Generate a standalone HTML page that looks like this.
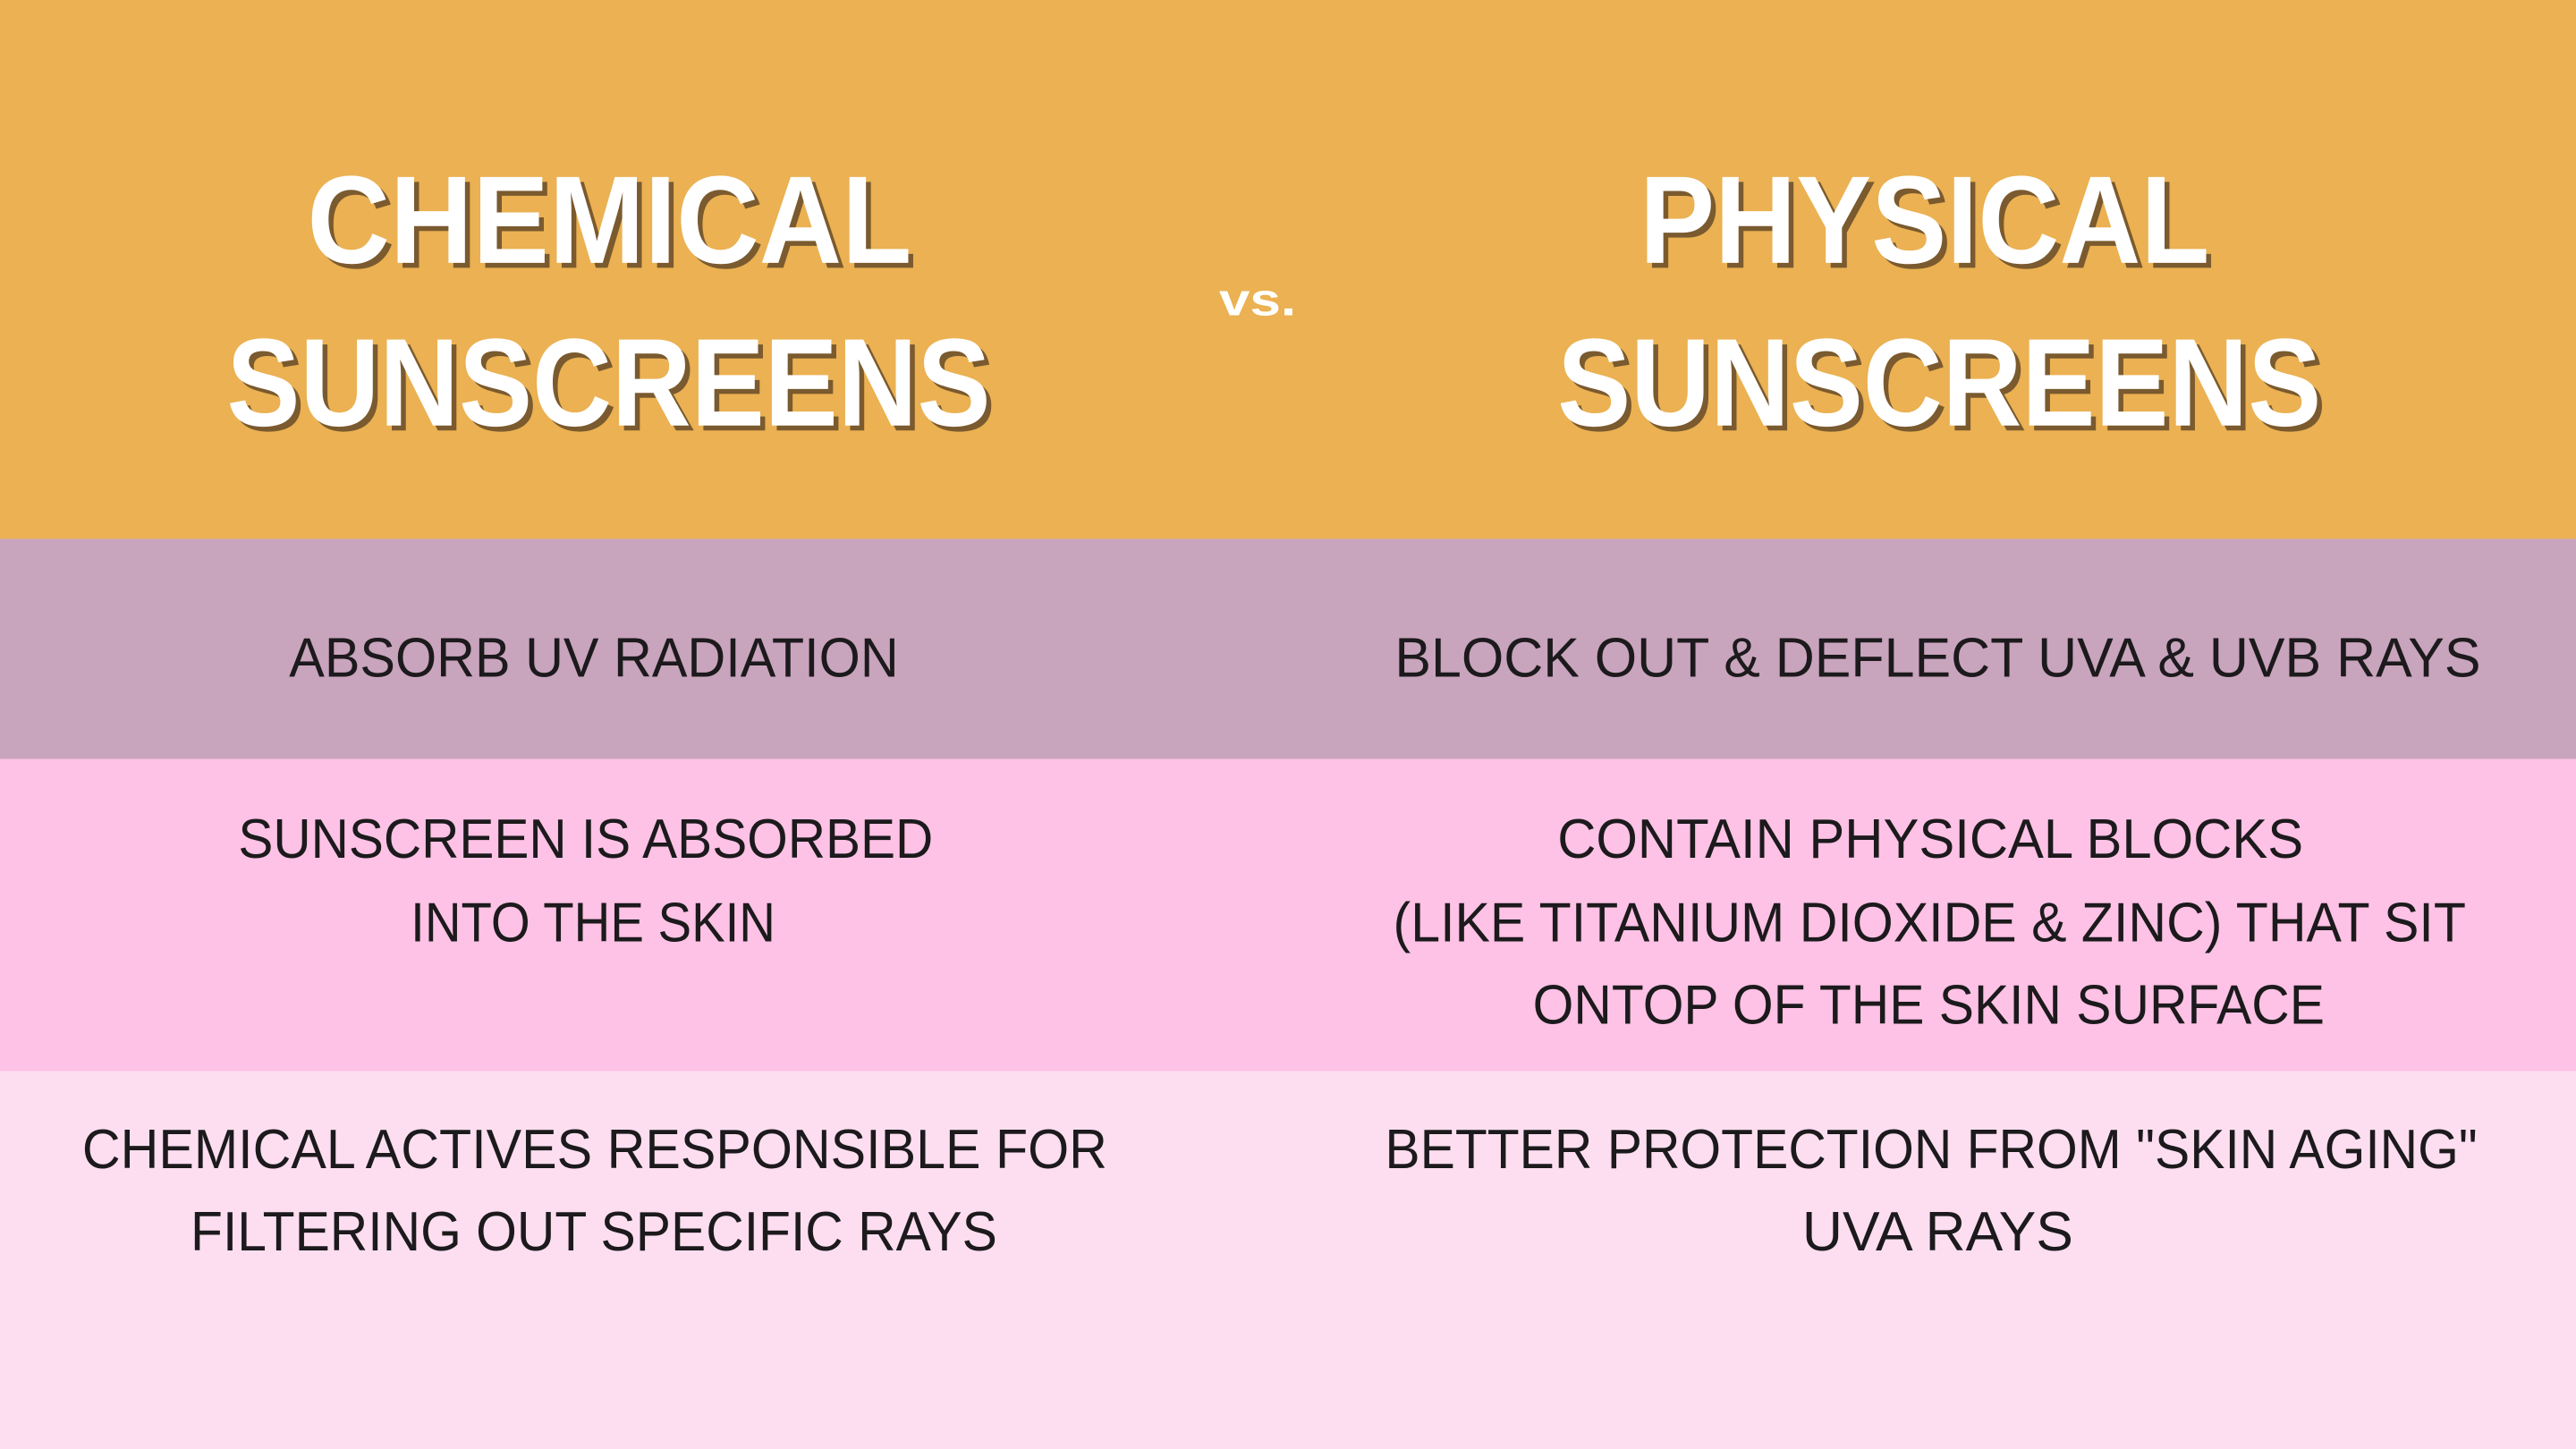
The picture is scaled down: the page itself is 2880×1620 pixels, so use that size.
<!DOCTYPE html>
<html>
<head>
<meta charset="utf-8">
<style>
  html, body { margin: 0; padding: 0; }
  body { width: 2880px; height: 1620px; overflow: hidden; }
  svg { display: block; }
  .h { font-family: "Liberation Sans", "DejaVu Sans", sans-serif; font-weight: bold; fill: #ffffff; }
  .hs { font-family: "Liberation Sans", "DejaVu Sans", sans-serif; font-weight: bold; fill: #7a5a2e; }
  .b { font-family: "Liberation Sans", "DejaVu Sans", sans-serif; font-weight: normal; fill: #1c1a1c; }
</style>
</head>
<body>
<svg width="2880" height="1620" viewBox="0 0 1568 882" preserveAspectRatio="none" xmlns="http://www.w3.org/2000/svg">
  <rect x="0" y="0" width="1568" height="328" fill="#EBB152"/>
  <rect x="0" y="328" width="1568" height="134" fill="#C9A4BD"/>
  <rect x="0" y="462" width="1568" height="190" fill="#FDC2E5"/>
  <rect x="0" y="652" width="1568" height="230" fill="#FDDEF1"/>

  <g>
    <text class="hs" x="190" y="163" font-size="76" textLength="368" lengthAdjust="spacingAndGlyphs">CHEMICAL</text>
    <text class="h" x="187" y="160" font-size="76" textLength="368" lengthAdjust="spacingAndGlyphs">CHEMICAL</text>
    <text class="hs" x="141" y="262" font-size="76" textLength="465" lengthAdjust="spacingAndGlyphs">SUNSCREENS</text>
    <text class="h" x="138" y="259" font-size="76" textLength="465" lengthAdjust="spacingAndGlyphs">SUNSCREENS</text>
  </g>
  <text class="h" x="742" y="192" font-size="28" textLength="47" lengthAdjust="spacingAndGlyphs">vs.</text>
  <g>
    <text class="hs" x="1001" y="163" font-size="76" textLength="347" lengthAdjust="spacingAndGlyphs">PHYSICAL</text>
    <text class="h" x="998" y="160" font-size="76" textLength="347" lengthAdjust="spacingAndGlyphs">PHYSICAL</text>
    <text class="hs" x="951" y="262" font-size="76" textLength="465" lengthAdjust="spacingAndGlyphs">SUNSCREENS</text>
    <text class="h" x="948" y="259" font-size="76" textLength="465" lengthAdjust="spacingAndGlyphs">SUNSCREENS</text>
  </g>

  <text class="b" x="176" y="412" font-size="34" textLength="371" lengthAdjust="spacingAndGlyphs">ABSORB UV RADIATION</text>
  <text class="b" x="849" y="412" font-size="34" textLength="661" lengthAdjust="spacingAndGlyphs">BLOCK OUT &amp; DEFLECT UVA &amp; UVB RAYS</text>

  <g>
    <text class="b" x="145" y="522" font-size="34" textLength="423" lengthAdjust="spacingAndGlyphs">SUNSCREEN IS ABSORBED</text>
    <text class="b" x="250" y="573" font-size="34" textLength="222" lengthAdjust="spacingAndGlyphs">INTO THE SKIN</text>
  </g>
  <g>
    <text class="b" x="948" y="522" font-size="34" textLength="454" lengthAdjust="spacingAndGlyphs">CONTAIN PHYSICAL BLOCKS</text>
    <text class="b" x="848" y="573" font-size="34" textLength="653" lengthAdjust="spacingAndGlyphs">(LIKE TITANIUM DIOXIDE &amp; ZINC) THAT SIT</text>
    <text class="b" x="933" y="623" font-size="34" textLength="482" lengthAdjust="spacingAndGlyphs">ONTOP OF THE SKIN SURFACE</text>
  </g>

  <g>
    <text class="b" x="50" y="711" font-size="34" textLength="624" lengthAdjust="spacingAndGlyphs">CHEMICAL ACTIVES RESPONSIBLE FOR</text>
    <text class="b" x="116" y="761" font-size="34" textLength="491" lengthAdjust="spacingAndGlyphs">FILTERING OUT SPECIFIC RAYS</text>
  </g>
  <g>
    <text class="b" x="843" y="711" font-size="34" textLength="665" lengthAdjust="spacingAndGlyphs">BETTER PROTECTION FROM "SKIN AGING"</text>
    <text class="b" x="1097" y="761" font-size="34" textLength="165" lengthAdjust="spacingAndGlyphs">UVA RAYS</text>
  </g>
</svg>
</body>
</html>
